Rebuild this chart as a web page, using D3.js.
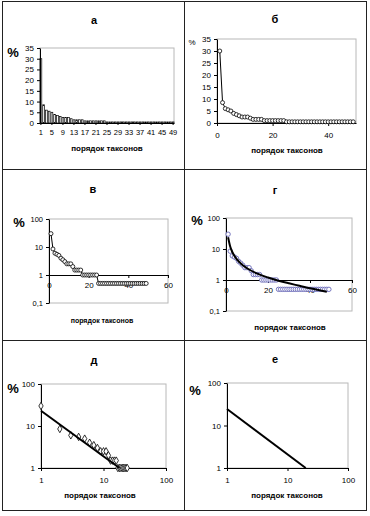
<!DOCTYPE html>
<html>
<head>
<meta charset="utf-8">
<script src="https://cdn.jsdelivr.net/npm/d3@7"></script>
<style>
  body { margin: 0; background: #fff; }
  svg { display: block; font-family: "Liberation Sans", Arial, sans-serif; }
</style>
</head>
<body>
<svg id="chart" width="370" height="516"></svg>
<script>
// share of each taxon (%), ranked from most to least abundant
const shares = [30, 8.5, 6, 5.5, 5, 4, 3.5, 3, 2.5, 2.5, 2.5, 2, 1.5, 1.5, 1.5, 1.5,
    1, 1, 1, 1, 1, 1, 1, 1,
    0.5, 0.5, 0.5, 0.5, 0.5, 0.5, 0.5, 0.5, 0.5, 0.5, 0.5, 0.5, 0.5,
    0.5, 0.5, 0.5, 0.5, 0.5, 0.5, 0.5, 0.5, 0.5, 0.5, 0.5, 0.5];
const ranks = shares.map((d, i) => i + 1);

const barLabelRanks = [1, 5, 9, 13, 17, 21, 25, 29, 33, 37, 41, 45, 49];
const barYTicks = [0, 5, 10, 15, 20, 25, 30, 35];
const linXTicks = [0, 20, 40];
const semiXTicks = [0, 20, 40, 60];
const logYTicks = [0.1, 1, 10, 100];
const logXTicks = [1, 10, 100];

// trend lines
const trendG = [[1, 24], [2, 12], [3, 8], [5, 4.8], [8, 3], [10, 2.4], [15, 1.6], [20, 1.2],
    [25, 0.95], [30, 0.78], [35, 0.65], [40, 0.54], [45, 0.46], [48, 0.42]];
const trendD = [[1, 23], [18, 1]];
const trendE = [[1, 24.5], [20, 1]];

const panelTitles = ["а", "б", "в", "г", "д", "е"];
const xTitle = "порядок таксонов";

const svg = d3.select("#chart");
const FONT = "Liberation Sans, Arial, sans-serif";

// table frame
const frame = svg.append("g").attr("stroke", "#222").attr("fill", "none");
frame.append("rect").attr("x", 2.5).attr("y", 1.5).attr("width", 364).attr("height", 509);
frame.append("line").attr("x1", 184.5).attr("x2", 184.5).attr("y1", 1.5).attr("y2", 510.5);
frame.append("line").attr("x1", 2.5).attr("x2", 366.5).attr("y1", 169.5).attr("y2", 169.5);
frame.append("line").attr("x1", 2.5).attr("x2", 366.5).attr("y1", 340.5).attr("y2", 340.5);

const fmtLog = d => d === 0.1 ? "0,1" : String(d);

function styleAxis(g, size) {
    g.attr("font-family", FONT).attr("font-size", size);
    g.select(".domain").attr("stroke", "#000");
    g.selectAll(".tick line").attr("stroke", "#000");
    g.selectAll(".tick text").attr("fill", "#000");
}

function plotFrame(x0, x1, y0, y1) {
    svg.append("rect")
        .attr("x", x0).attr("y", y1)
        .attr("width", x1 - x0).attr("height", y0 - y1)
        .attr("fill", "none").attr("stroke", "#b8b8b8");
}

function labels(i, t, pct, xt, xtSize, pctSmall) {
    svg.append("text").text(panelTitles[i])
        .attr("x", t[0]).attr("y", t[1])
        .attr("text-anchor", "middle").attr("dominant-baseline", "central")
        .attr("font-weight", "bold").attr("font-size", 11);
    svg.append("text").text("%")
        .attr("x", pct[0]).attr("y", pct[1])
        .attr("text-anchor", "middle").attr("dominant-baseline", "central")
        .attr("font-weight", pctSmall ? "normal" : "bold")
        .attr("font-size", pctSmall ? 8 : 13);
    svg.append("text").text(xTitle)
        .attr("x", xt[0]).attr("y", xt[1])
        .attr("text-anchor", "middle").attr("dominant-baseline", "central")
        .attr("font-weight", "bold").attr("font-size", xtSize);
}

// ---- а: bar chart
(function () {
    const x = d3.scaleBand().domain(ranks).range([40, 174]).paddingInner(0.35);
    const y = d3.scaleLinear().domain([0, 35]).range([123, 48]);
    plotFrame(40, 174, 123, 48);
    svg.append("g").selectAll("rect")
        .data(ranks)
        .join("rect")
        .attr("x", d => x(d))
        .attr("y", d => y(shares[d - 1]))
        .attr("width", x.bandwidth())
        .attr("height", d => y(0) - y(shares[d - 1]))
        .attr("fill", "#fff").attr("stroke", "#000").attr("stroke-width", 0.7);
    svg.append("g").attr("transform", `translate(0,${y(0)})`)
        .call(d3.axisBottom(x).tickValues(barLabelRanks).tickSize(2).tickPadding(5).tickSizeOuter(0))
        .call(g => styleAxis(g, 7.5));
    svg.append("g").attr("transform", `translate(40,0)`)
        .call(d3.axisLeft(y).tickValues(barYTicks).tickSize(3).tickSizeOuter(0))
        .call(g => styleAxis(g, 8));
    labels(0, [94, 20], [13, 52], [107, 148], 8, false);
})();

// ---- б: linear line + markers
(function () {
    const x = d3.scaleLinear().domain([0, 50]).range([217, 356]);
    const y = d3.scaleLinear().domain([0, 35]).range([123, 39]);
    plotFrame(217, 356, 123, 39);
    svg.append("g").attr("transform", `translate(0,${y(0)})`)
        .call(d3.axisBottom(x).tickValues(linXTicks).tickSize(3).tickPadding(6).tickSizeOuter(0))
        .call(g => styleAxis(g, 8));
    svg.append("g").attr("transform", `translate(217,0)`)
        .call(d3.axisLeft(y).tickValues(barYTicks).tickSize(3).tickSizeOuter(0))
        .call(g => styleAxis(g, 8));
    const line = d3.line().x(d => x(d)).y(d => y(shares[d - 1]));
    svg.append("path").attr("d", line(ranks))
        .attr("fill", "none").attr("stroke", "#000").attr("stroke-width", 1);
    svg.append("g").selectAll("circle").data(ranks).join("circle")
        .attr("cx", d => x(d)).attr("cy", d => y(shares[d - 1])).attr("r", 2)
        .attr("fill", "#fff").attr("stroke", "#000").attr("stroke-width", 0.8);
    labels(1, [275, 19], [192, 42], [287, 150], 8, true);
})();

// ---- в: semi-log line + markers
(function () {
    const x = d3.scaleLinear().domain([0, 60]).range([49, 168]);
    const y = d3.scaleLog().domain([0.1, 100]).range([303, 219]);
    plotFrame(49, 168, 303, 219);
    svg.append("g").attr("transform", `translate(0,${y(1)})`)
        .call(d3.axisBottom(x).tickValues(semiXTicks).tickSize(3).tickPadding(4).tickSizeOuter(0))
        .call(g => styleAxis(g, 8));
    svg.append("g").attr("transform", `translate(49,0)`)
        .call(d3.axisLeft(y).tickValues(logYTicks).tickFormat(fmtLog).tickSize(3).tickSizeOuter(0))
        .call(g => styleAxis(g, 7.5));
    const line = d3.line().x(d => x(d)).y(d => y(shares[d - 1]));
    svg.append("path").attr("d", line(ranks))
        .attr("fill", "none").attr("stroke", "#000").attr("stroke-width", 1);
    svg.append("g").selectAll("circle").data(ranks).join("circle")
        .attr("cx", d => x(d)).attr("cy", d => y(shares[d - 1])).attr("r", 2)
        .attr("fill", "#fff").attr("stroke", "#000").attr("stroke-width", 0.8);
    labels(2, [93, 189], [19, 222], [102, 320], 7, false);
})();

// ---- г: semi-log markers + power trend
(function () {
    const x = d3.scaleLinear().domain([0, 60]).range([226, 352]);
    const y = d3.scaleLog().domain([0.1, 100]).range([311, 218]);
    plotFrame(226, 352, 311, 218);
    svg.append("g").attr("transform", `translate(0,${y(1)})`)
        .call(d3.axisBottom(x).tickValues(semiXTicks).tickSize(3).tickPadding(4).tickSizeOuter(0))
        .call(g => styleAxis(g, 8));
    svg.append("g").attr("transform", `translate(226,0)`)
        .call(d3.axisLeft(y).tickValues(logYTicks).tickFormat(fmtLog).tickSize(3).tickSizeOuter(0))
        .call(g => styleAxis(g, 7.5));
    svg.append("g").selectAll("circle").data(ranks).join("circle")
        .attr("cx", d => x(d)).attr("cy", d => y(shares[d - 1])).attr("r", 2.2)
        .attr("fill", "#fff").attr("stroke", "#6a6ab8").attr("stroke-width", 0.9);
    const line = d3.line().x(d => x(d[0])).y(d => y(d[1])).curve(d3.curveMonotoneX);
    svg.append("path").attr("d", line(trendG))
        .attr("fill", "none").attr("stroke", "#000").attr("stroke-width", 2);
    labels(3, [275, 190], [197, 220], [290, 327], 8, false);
})();

// ---- д: log-log markers + trend
(function () {
    const x = d3.scaleLog().domain([1, 100]).range([41, 166]);
    const y = d3.scaleLog().domain([1, 100]).range([468, 384]);
    plotFrame(41, 166, 468, 384);
    svg.append("g").attr("transform", `translate(0,468)`)
        .call(d3.axisBottom(x).tickValues(logXTicks).tickFormat(fmtLog).tickSize(3).tickPadding(6).tickSizeOuter(0))
        .call(g => styleAxis(g, 8));
    svg.append("g").attr("transform", `translate(41,0)`)
        .call(d3.axisLeft(y).tickValues([1, 10, 100]).tickFormat(fmtLog).tickSize(3).tickSizeOuter(0))
        .call(g => styleAxis(g, 8));
    const shown = ranks.filter(d => shares[d - 1] >= 1);
    const sym = d3.symbol().type(d3.symbolDiamond).size(16);
    svg.append("g").selectAll("path").data(shown).join("path")
        .attr("transform", d => `translate(${x(d)},${y(shares[d - 1])})`)
        .attr("d", sym)
        .attr("fill", "#fff").attr("stroke", "#000").attr("stroke-width", 0.8);
    const line = d3.line().x(d => x(d[0])).y(d => y(d[1]));
    svg.append("path").attr("d", line(trendD))
        .attr("fill", "none").attr("stroke", "#000").attr("stroke-width", 2);
    labels(4, [94, 360], [13, 388], [100, 495], 8, false);
})();

// ---- е: log-log trend only
(function () {
    const x = d3.scaleLog().domain([1, 100]).range([227, 348]);
    const y = d3.scaleLog().domain([1, 100]).range([468, 383]);
    plotFrame(227, 348, 468, 383);
    svg.append("g").attr("transform", `translate(0,468)`)
        .call(d3.axisBottom(x).tickValues(logXTicks).tickFormat(fmtLog).tickSize(3).tickPadding(6).tickSizeOuter(0))
        .call(g => styleAxis(g, 8));
    svg.append("g").attr("transform", `translate(227,0)`)
        .call(d3.axisLeft(y).tickValues([1, 10, 100]).tickFormat(fmtLog).tickSize(3).tickSizeOuter(0))
        .call(g => styleAxis(g, 8));
    const line = d3.line().x(d => x(d[0])).y(d => y(d[1]));
    svg.append("path").attr("d", line(trendE))
        .attr("fill", "none").attr("stroke", "#000").attr("stroke-width", 2);
    labels(5, [275, 359], [195, 390], [287, 495], 8, false);
})();
</script>
</body>
</html>
